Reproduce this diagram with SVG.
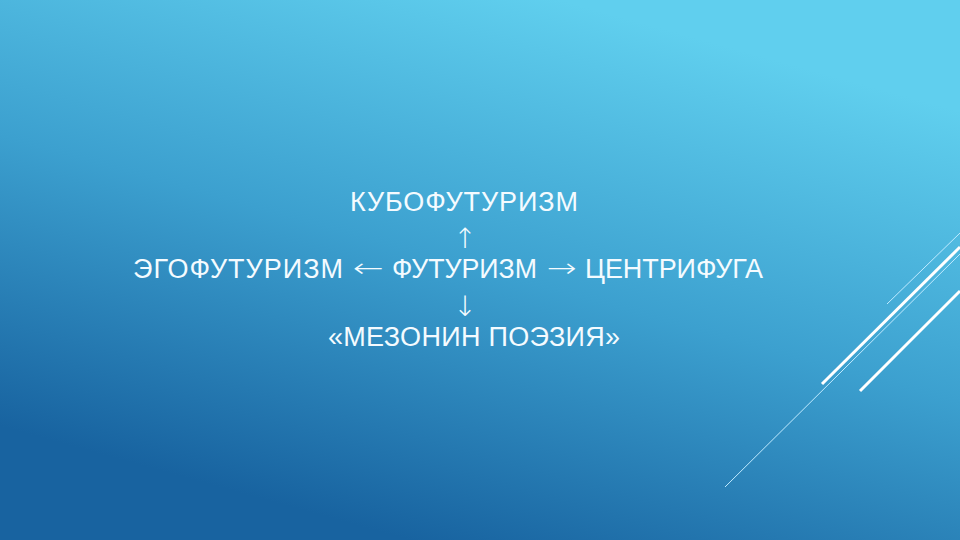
<svg xmlns="http://www.w3.org/2000/svg" width="960" height="540" viewBox="0 0 960 540">
  <defs>
    <linearGradient id="bg" gradientUnits="userSpaceOnUse" x1="560" y1="0" x2="410" y2="540">
      <stop offset="0" stop-color="#60cfee"/>
      <stop offset="0.5" stop-color="#3ca0cf"/>
      <stop offset="1" stop-color="#1863a0"/>
    </linearGradient>
    <style>
      .t { font-family: "Liberation Sans", "DejaVu Sans", sans-serif; font-size: 27px; fill: #f4fbff; }
      .v { font-family: "DejaVu Sans", "Liberation Sans", sans-serif; font-weight: 200; font-size: 28px; fill: #f4fbff; }
      .h { font-family: "DejaVu Sans", "Liberation Sans", sans-serif; font-weight: 200; font-size: 26px; fill: #f4fbff; }
      .thin { stroke: #bfeaff; stroke-width: 1; fill: none; }
      .thick { stroke: #ffffff; stroke-width: 3; fill: none; }
    </style>
  </defs>
  <rect width="960" height="540" fill="url(#bg)"/>
  <g id="decor">
    <line class="thin" x1="887" y1="304" x2="960" y2="233"/>
    <line class="thick" x1="822" y1="384" x2="960" y2="247"/>
    <line class="thin" x1="725" y1="487" x2="960" y2="254"/>
    <line class="thick" x1="860" y1="391" x2="960" y2="291"/>
  </g>
  <g id="node-kubo"><text class="t" x="350" y="211" textLength="228" lengthAdjust="spacing">КУБОФУТУРИЗМ</text></g>
  <g id="node-ego"><text class="t" x="133" y="278" textLength="210" lengthAdjust="spacing">ЭГОФУТУРИЗМ</text></g>
  <g id="node-futur"><text class="t" x="392" y="278" textLength="145" lengthAdjust="spacingAndGlyphs">ФУТУРИЗМ</text></g>
  <g id="node-centri"><text class="t" x="585" y="278" textLength="178" lengthAdjust="spacing">ЦЕНТРИФУГА</text></g>
  <g id="node-mezonin"><text class="t" x="328" y="346" textLength="292" lengthAdjust="spacing">«МЕЗОНИН ПОЭЗИЯ»</text></g>
  <g id="connectors">
    <text class="v" x="465" y="248" text-anchor="middle">↑</text>
    <text class="h" x="353" y="277" textLength="31" lengthAdjust="spacingAndGlyphs">←</text>
    <text class="h" x="547" y="277" textLength="30" lengthAdjust="spacingAndGlyphs">→</text>
    <text class="v" x="465" y="316" text-anchor="middle">↓</text>
  </g>
</svg>
